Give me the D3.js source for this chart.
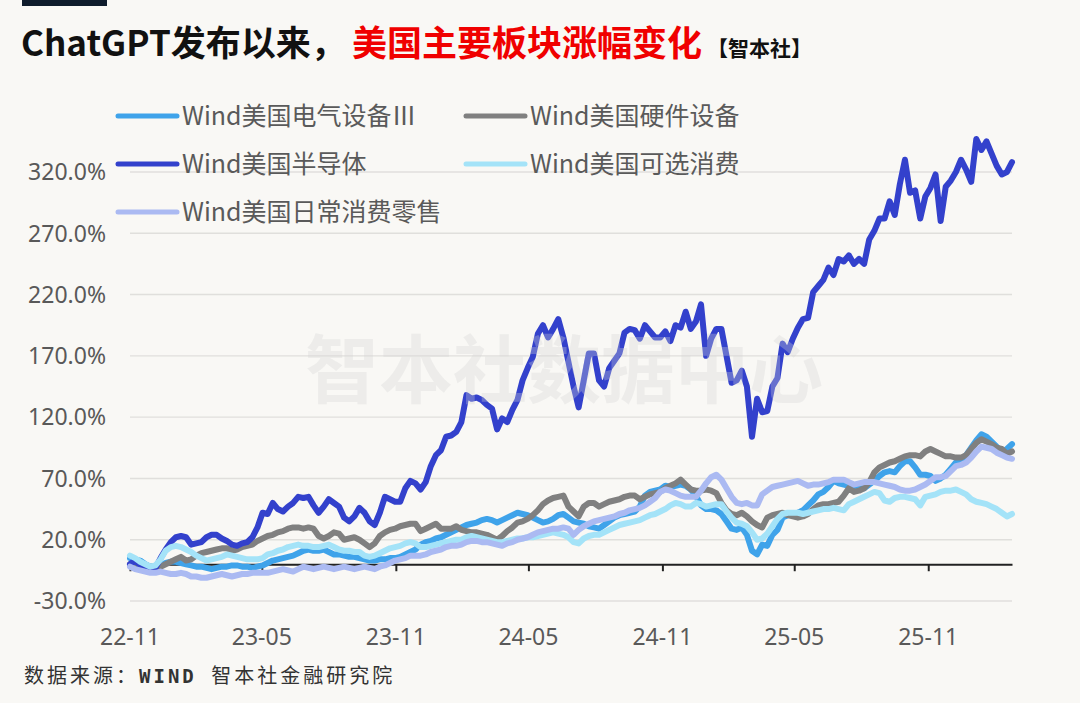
<!DOCTYPE html>
<html>
<head>
<meta charset="utf-8">
<script src="https://cdn.jsdelivr.net/npm/d3@7"></script>
<style>
  html, body { margin: 0; padding: 0; background: #f9f8f5; }
  svg { display: block; }
</style>
</head>
<body>
<div id="chart"></div>
<script>
// weekly closes since ChatGPT release, cumulative change in %
const startDate = new Date(2022, 10, 30);

const seriesNames = [
  'Wind美国电气设备Ⅲ',
  'Wind美国硬件设备',
  'Wind美国半导体',
  'Wind美国可选消费',
  'Wind美国日常消费零售'
];
const seriesColors = ['#3fa3ea', '#808080', '#3341cc', '#a4e3f8', '#abbaf2'];

const electric = [
  5,4,3,0,-2,-2,-1,1,2,2,
  1,0,-1,-2,-2,-3,-4,-3,-2,-2,
  -1,-1,-2,-2,-3,-2,-1,1,3,4,
  5,6,7,9,11,12,11,11,12,10,
  8,8,7,6,6,5,4,3,3,4,
  4,5,5,6,8,10,12,16,18,19,
  21,22,24,26,28,30,32,33,34,36,
  37,36,34,36,38,40,42,41,40,38,
  36,34,35,37,40,41,38,35,34,33,
  31,30,29,32,35,38,40,41,42,43,
  47,56,59,60,61,64,63,64,65,64,
  61,56,48,45,45,44,41,35,29,28,
  30,24,11,8,16,15,24,28,38,40,
  41,42,44,48,52,57,59,63,68,66,
  65,64,64,62,62,65,68,72,75,76,
  75,80,84,84,79,73,73,72,68,70,
  73,78,83,84,89,95,101,106,104,100,
  96,91,94,98
];

const hardware = [
  0,-1,-2,-4,-5,-4,-2,0,2,4,
  6,3,4,7,9,10,11,12,13,13,
  11,12,14,15,16,19,21,23,24,26,
  27,29,30,30,29,30,29,23,21,23,
  26,25,20,21,22,20,17,14,17,23,
  26,28,29,31,32,33,33,27,29,31,
  33,29,29,29,31,28,27,26,26,25,
  24,22,20,23,27,30,34,35,37,40,
  44,49,52,54,55,56,47,43,39,47,
  50,50,47,49,51,52,53,55,56,56,
  53,55,57,58,59,62,64,66,69,65,
  61,60,60,61,60,58,50,44,41,40,
  42,39,35,32,30,38,40,41,42,40,
  39,38,39,41,45,48,49,49,50,51,
  56,62,59,60,62,67,75,79,81,83,
  84,86,88,89,89,88,92,94,92,90,
  88,88,87,87,89,94,99,102,100,98,
  95,94,90,92
];

const semis = [
  0,3,-1,-4,-5,-3,5,12,18,22,
  23,22,16,17,18,22,24,24,21,19,
  16,15,17,18,22,30,42,41,50,45,
  43,47,50,55,54,55,48,42,47,53,
  50,47,38,35,39,46,42,35,32,42,
  55,53,51,51,62,68,66,61,67,80,
  89,93,104,105,108,116,138,135,136,134,
  130,127,110,119,116,126,134,150,160,169,
  188,195,185,192,200,185,165,145,128,150,
  172,172,150,145,160,166,172,189,192,191,
  184,195,190,185,185,190,182,195,193,206,
  192,198,212,170,184,192,192,170,148,150,
  158,145,104,135,124,125,145,152,180,173,
  184,193,200,201,222,227,232,242,236,249,
  247,252,245,249,245,265,272,282,282,296,
  285,310,330,303,305,282,300,307,318,280,
  308,313,320,330,322,312,347,338,345,335,
  325,318,320,328
];

const discretionary = [
  7,5,2,0,-2,-1,4,11,14,15,
  14,12,10,7,5,3,4,5,6,8,
  7,6,5,4,4,4,5,8,9,11,
  12,14,15,16,15,15,14,14,15,16,
  14,12,11,11,10,10,7,6,7,9,
  11,13,14,15,17,18,17,14,14,15,
  16,17,18,19,20,20,22,23,22,21,
  20,19,18,18,19,20,21,21,22,22,
  23,24,25,26,25,24,22,18,17,21,
  23,24,24,26,28,30,32,33,34,35,
  36,38,40,41,43,45,48,50,49,47,
  47,50,49,47,48,49,49,43,38,34,
  33,31,26,20,21,25,31,37,41,42,
  42,42,41,42,43,44,45,45,46,45,
  44,49,51,53,55,57,59,58,52,51,
  54,55,55,54,53,48,55,56,57,59,
  60,60,61,59,57,53,51,50,49,47,
  45,42,39,41
];

const staples = [
  -2,-4,-5,-6,-7,-7,-6,-7,-8,-8,
  -7,-8,-10,-10,-11,-11,-10,-9,-8,-9,
  -10,-9,-8,-8,-7,-7,-7,-7,-6,-5,
  -4,-5,-6,-4,-2,-3,-4,-3,-2,-3,
  -4,-3,-2,-3,-4,-3,-2,-3,-4,-2,
  -1,1,3,4,5,7,7,7,8,10,
  11,12,14,15,15,16,18,19,19,18,
  18,17,16,15,17,18,20,21,22,24,
  26,27,28,29,29,30,29,24,28,31,
  33,35,36,37,38,39,41,42,44,45,
  46,48,51,54,59,61,60,58,56,55,
  55,55,60,66,71,73,69,62,55,50,
  49,50,48,48,57,60,63,64,65,66,
  67,68,66,64,65,65,66,67,69,69,
  69,67,65,66,67,67,67,66,65,64,
  63,61,60,60,61,63,65,68,71,71,
  72,76,80,81,83,87,92,96,95,94,
  91,89,87,86
];

const yTicks = [-30, 20, 70, 120, 170, 220, 270, 320];
const xTicks = ['2022-11-30', '2023-05-30', '2023-11-30', '2024-05-30', '2024-11-30', '2025-05-30', '2025-11-30'];

const allSeries = [electric, hardware, semis, discretionary, staples];
const dates = electric.map((_, i) => d3.timeDay.offset(startDate, i * 7));
const parseDay = d3.timeParse('%Y-%m-%d');
const fmtMonth = d3.timeFormat('%y-%m');

const W = 1080, H = 703;
const svg = d3.select('#chart').append('svg')
  .attr('width', W).attr('height', H)
  .style('background', '#f9f8f5');

const cjk = '"Noto Sans CJK SC", "Noto Sans", sans-serif';

// top bar
svg.append('rect').attr('x', 22).attr('y', 0).attr('width', 85).attr('height', 6).attr('fill', '#0f1c2c');

// title
const title = svg.append('text')
  .attr('x', 21).attr('y', 56)
  .attr('font-family', cjk).attr('font-weight', 700).attr('font-size', 35);
title.append('tspan').attr('fill', '#111').text('ChatGPT发布以来，');
title.append('tspan').attr('x', 352).attr('fill', '#f00000').text('美国主要板块涨幅变化');
title.append('tspan').attr('x', 707).attr('fill', '#111').attr('font-size', 21).text('【智本社】');

const x = d3.scaleTime()
  .domain([startDate, dates[dates.length - 1]])
  .range([130, 1012]);
const y = d3.scaleLinear().domain([-30, 320]).range([601, 172]);

// grid
svg.append('g').selectAll('line').data(yTicks).join('line')
  .attr('x1', 130).attr('x2', 1012)
  .attr('y1', d => y(d)).attr('y2', d => y(d))
  .attr('stroke', '#e0dfdc').attr('stroke-width', 1.4);

// y labels
svg.append('g').selectAll('text').data(yTicks).join('text')
  .attr('x', 106).attr('y', d => y(d)).attr('dy', '0.36em')
  .attr('text-anchor', 'end')
  .attr('font-family', '"Noto Sans", sans-serif').attr('font-size', 23)
  .attr('fill', '#595959')
  .text(d => d.toFixed(1) + '%');

// x axis on zero line
const xAxis = d3.axisBottom(x)
  .tickValues(xTicks.map(parseDay))
  .tickFormat(fmtMonth)
  .tickSizeInner(7).tickSizeOuter(0).tickPadding(0);
const gx = svg.append('g').attr('transform', `translate(0,${y(0)})`).call(xAxis);
gx.select('.domain').attr('stroke', '#222').attr('stroke-width', 2);
gx.selectAll('.tick line').attr('stroke', '#222').attr('stroke-width', 2);
gx.selectAll('.tick text').remove();

svg.append('g').selectAll('text').data(xTicks).join('text')
  .attr('x', d => x(parseDay(d))).attr('y', 645)
  .attr('text-anchor', 'middle')
  .attr('font-family', '"Noto Sans", sans-serif').attr('font-size', 23)
  .attr('fill', '#595959')
  .text(d => fmtMonth(parseDay(d)));

// lines
const line = d3.line().x((d, i) => x(dates[i])).y(d => y(d));
svg.append('g').selectAll('path').data(allSeries).join('path')
  .attr('d', line)
  .attr('fill', 'none')
  .attr('stroke', (d, i) => seriesColors[i])
  .attr('stroke-width', 6)
  .attr('stroke-linejoin', 'round')
  .attr('stroke-linecap', 'round');

// watermark
svg.append('text')
  .attr('x', 564).attr('y', 370).attr('dy', '0.36em')
  .attr('text-anchor', 'middle')
  .attr('font-family', cjk).attr('font-weight', 700).attr('font-size', 74)
  .attr('fill', '#d3d3d3').attr('fill-opacity', 0.32)
  .text('智本社数据中心');

// legend
const legendPos = [[118, 116], [466, 116], [118, 164], [466, 164], [118, 212]];
const legend = svg.append('g').selectAll('g').data(seriesNames).join('g')
  .attr('transform', (d, i) => `translate(${legendPos[i][0]},${legendPos[i][1]})`);
legend.append('line')
  .attr('x1', 0).attr('x2', 59)
  .attr('stroke', (d, i) => seriesColors[i])
  .attr('stroke-width', 5).attr('stroke-linecap', 'round');
legend.append('text')
  .attr('x', 64).attr('dy', '0.36em')
  .attr('font-family', cjk).attr('font-size', 25)
  .attr('fill', '#5a5a5a')
  .text(d => d);

// source
const src = svg.append('text')
  .attr('x', 24).attr('y', 683)
  .attr('font-family', cjk).attr('font-size', 20)
  .attr('letter-spacing', 3).attr('fill', '#333');
src.append('tspan').text('数据来源：');
src.append('tspan').attr('font-family', '"DejaVu Sans Mono", monospace').attr('font-weight', 700).attr('font-size', 19).text('WIND ');
src.append('tspan').text('智本社金融研究院');
</script>
</body>
</html>
